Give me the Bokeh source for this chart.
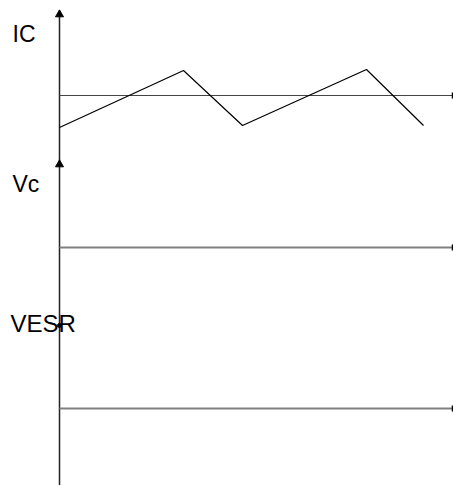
from bokeh.plotting import figure
from bokeh.models import Range1d
from bokeh.core.properties import value
from bokeh.embed import file_html
from bokeh.resources import INLINE

# Panel labels and their baselines (y measured downward, page-like units)
labels = ["IC", "Vc", "VESR"]
label_t = [-47, -47, -49]
label_y = [33, 183, 323]
label_size = ["23px", "23px", "24px"]
baseline_y = [95, 247, 408]

# Capacitor current waveform: time and deviation above the IC baseline
ic_t = [0, 124, 183, 307, 364]
ic_dev = [-32, 25, -30, 26, -30]

# axis extents
t_end = 393
axis_top = 10
axis_bottom = 485
arrow_tips = [10, 160]
esr_dot = 325

p = figure(width=453, height=485, output_backend="svg", toolbar_location=None,
           x_range=Range1d(-59, 394), y_range=Range1d(485, 0),
           min_border=0, outline_line_color=None)
p.axis.visible = False
p.grid.visible = False
p.background_fill_color = "white"
p.border_fill_color = "white"

# vertical time axis
p.line([0, 0], [axis_top, axis_bottom], line_color="#222222", line_width=1.5)
# arrowheads
p.scatter([0] * len(arrow_tips), [a + 4 for a in arrow_tips], marker="triangle",
          size=8, fill_color="black", line_color="black")
# horizontal baselines with end ticks
for i, b in enumerate(baseline_y):
    p.line([0, t_end], [b, b], line_color="#444444" if i == 0 else "#808080",
           line_width=1.2 if i == 0 else 2)
p.scatter([t_end] * len(baseline_y), baseline_y, marker="dash", angle=1.5708,
          size=6, line_color="black", line_width=1.5)
# IC waveform
ic_y = [baseline_y[0] - d for d in ic_dev]
p.line(ic_t, ic_y, line_color="black", line_width=1.2)
# ESR dot
p.scatter([0], [esr_dot], marker="circle", size=4, fill_color="black", line_color="black")

for lab, t, y, s in zip(labels, label_t, label_y, label_size):
    p.text([t], [y], text=[lab], text_font=value("Liberation Sans"),
           text_font_size=s, text_baseline="alphabetic", text_align="left",
           text_color="black")

open("out.html", "w").write(file_html(p, INLINE))
